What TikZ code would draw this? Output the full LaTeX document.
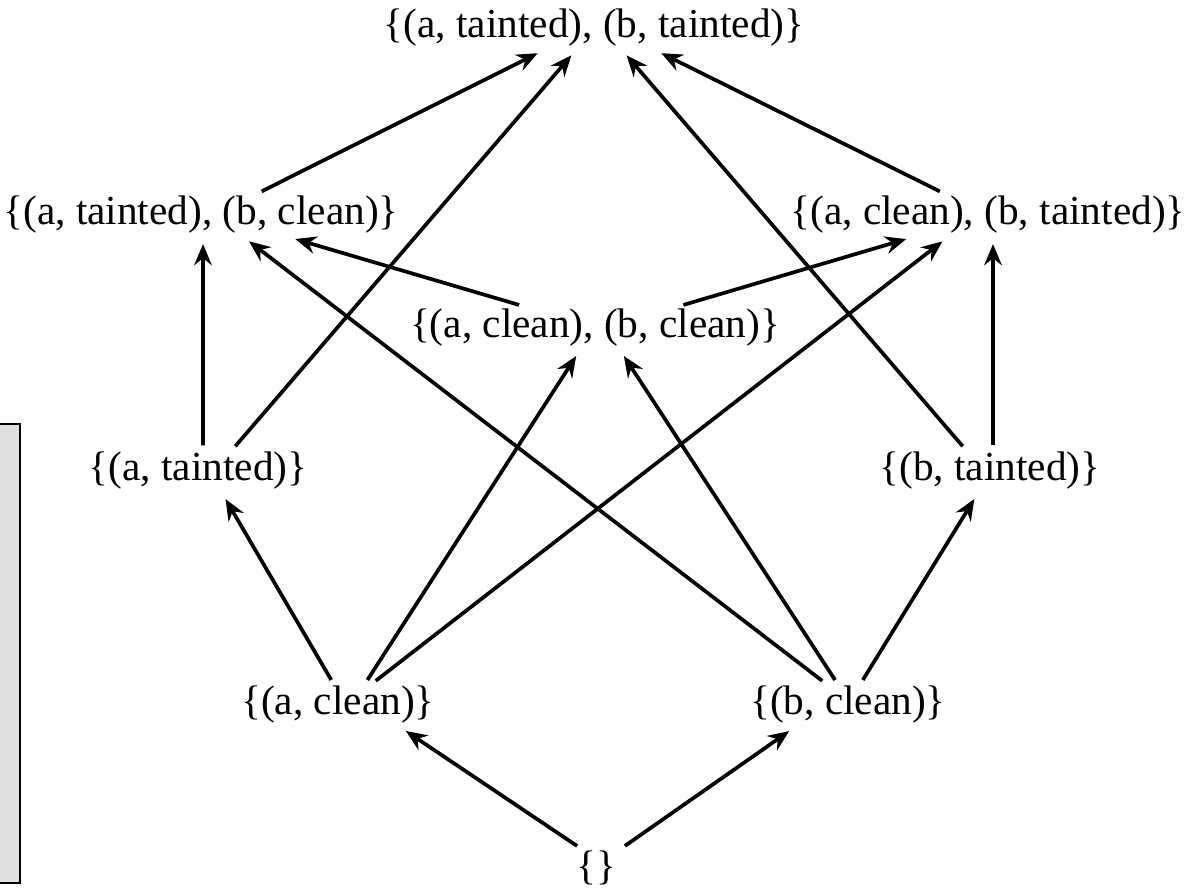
\documentclass[tikz,border=0pt]{standalone}
\usepackage{fontspec}
\setmainfont{Liberation Serif}
\usetikzlibrary{arrows.meta}

\begin{document}
\begin{tikzpicture}[line width=2.1pt,
  state/.style={inner sep=0pt, text height=17pt, text depth=6pt,
    font=\fontsize{23.5}{28}\selectfont},
  up/.style={-{Stealth[length=12pt, width=10pt, inset=4pt]},
    shorten <=2pt, shorten >=4pt},
]
  \useasboundingbox (0,0) rectangle (23.82,-17.78);
  % 左侧灰色框（被裁掉一部分）
  \draw[fill=black!12, line width=1.3pt] (-0.3,-8.48) rectangle (0.4,-17.66);
  % 格的各个元素
  \node[state] (top)   at (11.88,-0.56) {\{(a, tainted), (b, tainted)\}};
  \node[state] (atbc)  at (4.02,-4.3)   {\{(a, tainted), (b, clean)\}};
  \node[state] (acbt)  at (19.76,-4.3)  {\{(a, clean), (b, tainted)\}};
  \node[state] (acbc)  at (11.9,-6.56)  {\{(a, clean), (b, clean)\}};
  \node[state] (at)    at (3.96,-9.42)  {\{(a, tainted)\}};
  \node[state] (bt)    at (19.8,-9.42)  {\{(b, tainted)\}};
  \node[state] (ac)    at (6.76,-14.1)  {\{(a, clean)\}};
  \node[state] (bc)    at (16.96,-14.1) {\{(b, clean)\}};
  \node[state] (empty) at (11.92,-17.4) {\{\}};
  % 从下往上的箭头
  \draw[up] ([xshift=-0.32cm]empty.north) -- ([xshift=1.24cm]ac.south);
  \draw[up] ([xshift=0.52cm]empty.north) -- ([xshift=-1.06cm]bc.south);
  \draw[up] ([xshift=-0.1cm]ac.north) -- ([xshift=0.48cm]at.south);
  \draw[up] ([xshift=0.55cm]ac.north) -- ([xshift=-0.3cm]acbc.south);
  \draw[up] ([xshift=0.7cm]ac.north) -- ([xshift=-0.8cm]acbt.south);
  \draw[up] ([xshift=0.26cm]bc.north) -- ([xshift=-0.24cm]bt.south);
  \draw[up] ([xshift=-0.22cm]bc.north) -- ([xshift=0.5cm]acbc.south);
  \draw[up] ([xshift=-0.46cm]bc.north) -- ([xshift=0.85cm]atbc.south);
  \draw[up] ([xshift=0.1cm]at.north) -- ([xshift=0.04cm]atbc.south);
  \draw[up] ([xshift=0.7cm]at.north) -- ([xshift=-0.36cm]top.south);
  \draw[up] ([xshift=0.06cm]bt.north) -- ([xshift=0.1cm]acbt.south);
  \draw[up] ([xshift=-0.5cm]bt.north) -- ([xshift=0.56cm]top.south);
  \draw[up] ([xshift=-1.45cm]acbc.north) -- ([xshift=1.75cm]atbc.south);
  \draw[up] ([xshift=1.7cm]acbc.north) -- ([xshift=-1.5cm]acbt.south);
  \draw[up] ([xshift=1.15cm]atbc.north) -- ([xshift=-1.0cm]top.south);
  \draw[up] ([xshift=-0.9cm]acbt.north) -- ([xshift=1.22cm]top.south);
\end{tikzpicture}
\end{document}
